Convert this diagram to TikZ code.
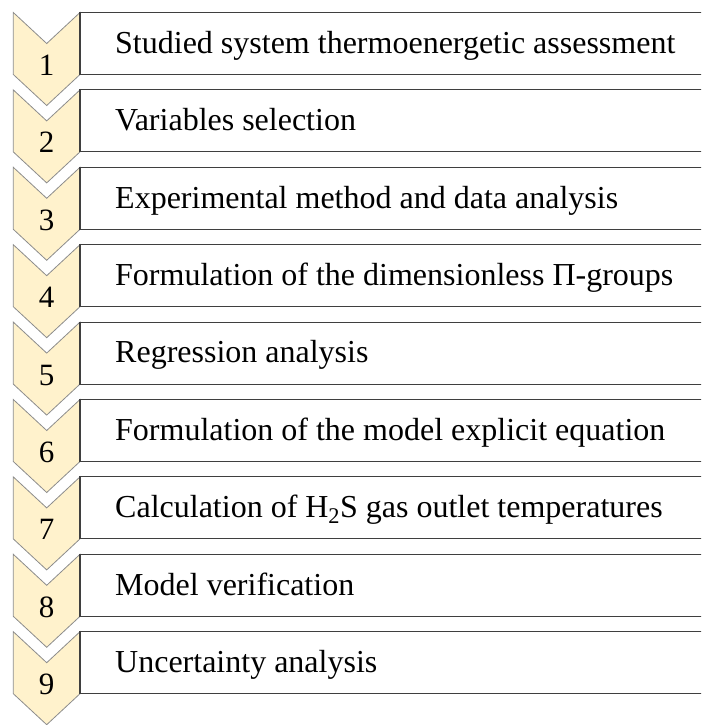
\documentclass[tikz,border=0pt]{standalone}
\usepackage{fontspec}
\setmainfont{Liberation Serif}
\begin{document}
\begin{tikzpicture}[x=1pt,y=-1pt]
\definecolor{chfill}{HTML}{FFF2CC}
\definecolor{chedge}{HTML}{8C8C8C}
\definecolor{boxedge}{HTML}{3F3F3F}
\tikzset{
  chev/.style={fill=chfill,draw=chedge,line width=0.8pt,line join=miter},
  rowbox/.style={fill=white,draw=boxedge,line width=1.1pt},
  num/.style={anchor=base,inner sep=0pt,font=\fontsize{31}{37}\selectfont},
  lbl/.style={anchor=base west,inner sep=0pt,font=\fontsize{32}{38}\selectfont}
}
\useasboundingbox (0,0) rectangle (701,725);
\clip (0,0) rectangle (701,725);
\foreach \i/\txt in {
  1/{Studied system thermoenergetic assessment},
  2/{Variables selection},
  3/{Experimental method and data analysis},
  4/{Formulation of the dimensionless Π-groups},
  5/{Regression analysis},
  6/{Formulation of the model explicit equation},
  7/{Calculation of H\textsubscript{2}S gas outlet temperatures},
  8/{Model verification},
  9/{Uncertainty analysis}} {
  \pgfmathsetmacro\tp{12.5+77.4*(\i-1)}
  \pgfmathsetmacro\bt{\tp+62}
  \draw[chev] (13.3,\tp) -- (46.7,\tp+31) -- (80,\tp) -- (80,\bt) -- (46.7,\bt+31) -- (13.3,\bt) -- cycle;
  \draw[rowbox] (80,\tp) rectangle (720,\bt);
  \node[num] (n\i) at (46.7,\bt+1) {\i};
  \node[lbl] (t\i) at (115,\tp+40.8) {\txt};
}
\end{tikzpicture}
\end{document}
